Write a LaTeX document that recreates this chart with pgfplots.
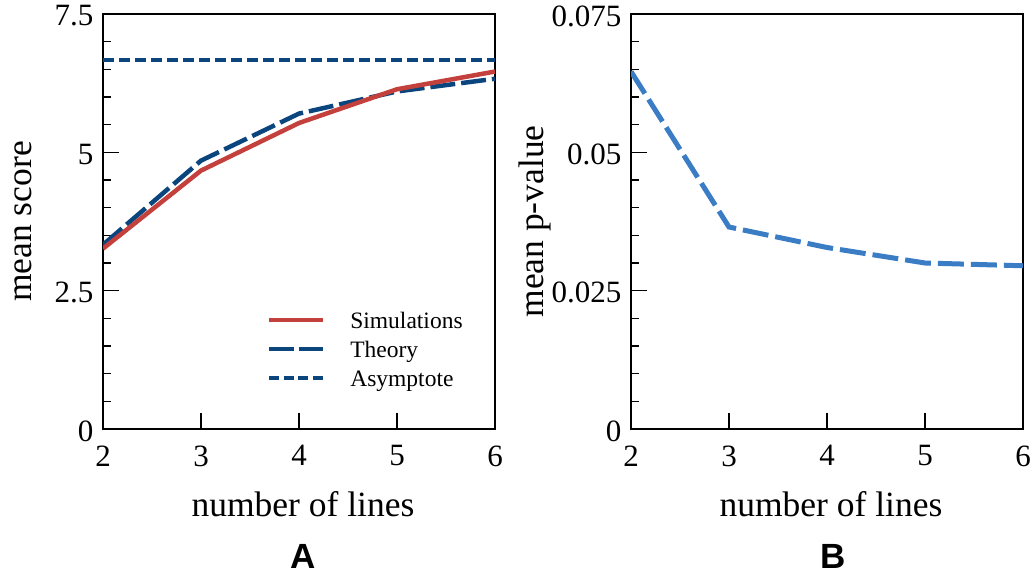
\documentclass[border=0pt]{standalone}
\usepackage{fontspec}
\setmainfont{Liberation Serif}
\newfontfamily\arialfont{Liberation Sans}
\usepackage{pgfplots}
\pgfplotsset{compat=1.18}
\definecolor{simred}{RGB}{196,64,60}
\definecolor{navy}{RGB}{10,70,125}
\definecolor{lightblue}{RGB}{58,125,196}
\pgfplotsset{
  common/.style={
    scale only axis, width=392bp, height=415bp, anchor=south west,
    clip mode=individual,
    xmin=2, xmax=6, xtick={2,3,4,5,6},
    tick align=inside, xtick pos=bottom, ytick pos=left,
    major tick length=16bp, minor tick length=8bp,
    every tick/.style={black, line width=1.3bp},
    axis line style={line width=1.5bp},
    scaled y ticks=false,
    tick label style={font=\fontsize{31bp}{37bp}\selectfont},
    xticklabel style={yshift=-13bp},
    yticklabel style={xshift=-6bp, yshift=-2bp},
    /pgf/number format/assume math mode=true,
    label style={font=\fontsize{35.5bp}{41bp}\selectfont},
    xlabel style={at={(rel axis cs:0.51,-0.212)}, anchor=base},
    xlabel={number of lines},
  },
}
\begin{document}
\begin{tikzpicture}
\useasboundingbox (0,0) rectangle (1032bp,575bp);
\begin{axis}[common, at={(103bp,146bp)},
  ymin=0, ymax=7.5, ytick={0,2.5,5,7.5}, yticklabels={0,2.5,5,7.5}, minor y tick num=4,
  ylabel={mean score},
  ylabel style={at={(rel axis cs:-0.203,0.5)}, anchor=center},
  legend image code/.code={\draw[#1] (0bp,8bp) -- (54bp,8bp);},
  legend style={draw=none, fill=none, at={(rel axis cs:0.418,0.284)}, anchor=north west,
    inner sep=0pt, outer sep=0pt, row sep=6.5bp, column sep=25bp,
    font=\fontsize{23.5bp}{27bp}\selectfont,
    nodes={inner sep=0pt, text height=17bp, text depth=5.5bp, anchor=base west}},
  legend cell align=left,
]
\addlegendimage{simred, line width=4.5bp}
\addlegendentry{Simulations}
\addlegendimage{navy, line width=4.5bp, dash pattern=on 24.5bp off 5bp}
\addlegendentry{Theory}
\addlegendimage{navy, line width=4.5bp, dash pattern=on 10bp off 4.6bp}
\addlegendentry{Asymptote}
\addplot[forget plot, navy, line width=4.5bp, dash pattern=on 11bp off 5bp] coordinates {(2,6.667) (6,6.667)};
\addplot[forget plot, navy, line width=4.5bp, dash pattern=on 25bp off 6bp] coordinates {
(2,3.33) (3,4.85) (4,5.70) (5,6.10) (6,6.33)};
\addplot[forget plot, simred, line width=4.5bp] coordinates {
(2,3.26) (3,4.67) (4,5.53) (5,6.14) (6,6.46)};
\node[font=\arialfont\bfseries\fontsize{35bp}{40bp}\selectfont, anchor=base] at (rel axis cs:0.51,-0.336) {A};
\end{axis}
\begin{axis}[common, at={(631bp,146bp)},
  ymin=0, ymax=0.075, ytick={0,0.025,0.05,0.075}, yticklabels={0,0.025,0.05,0.075}, minor y tick num=4,
  ylabel={mean p-value},
  ylabel style={at={(rel axis cs:-0.245,0.5)}, anchor=center},
]
\addplot[lightblue, line width=5bp, dash pattern=on 26bp off 7bp] coordinates {
(2,0.0646) (3,0.0365) (4,0.0328) (5,0.0300) (6,0.0295)};
\node[font=\arialfont\bfseries\fontsize{35bp}{40bp}\selectfont, anchor=base] at (rel axis cs:0.515,-0.336) {B};
\end{axis}
\end{tikzpicture}
\end{document}
